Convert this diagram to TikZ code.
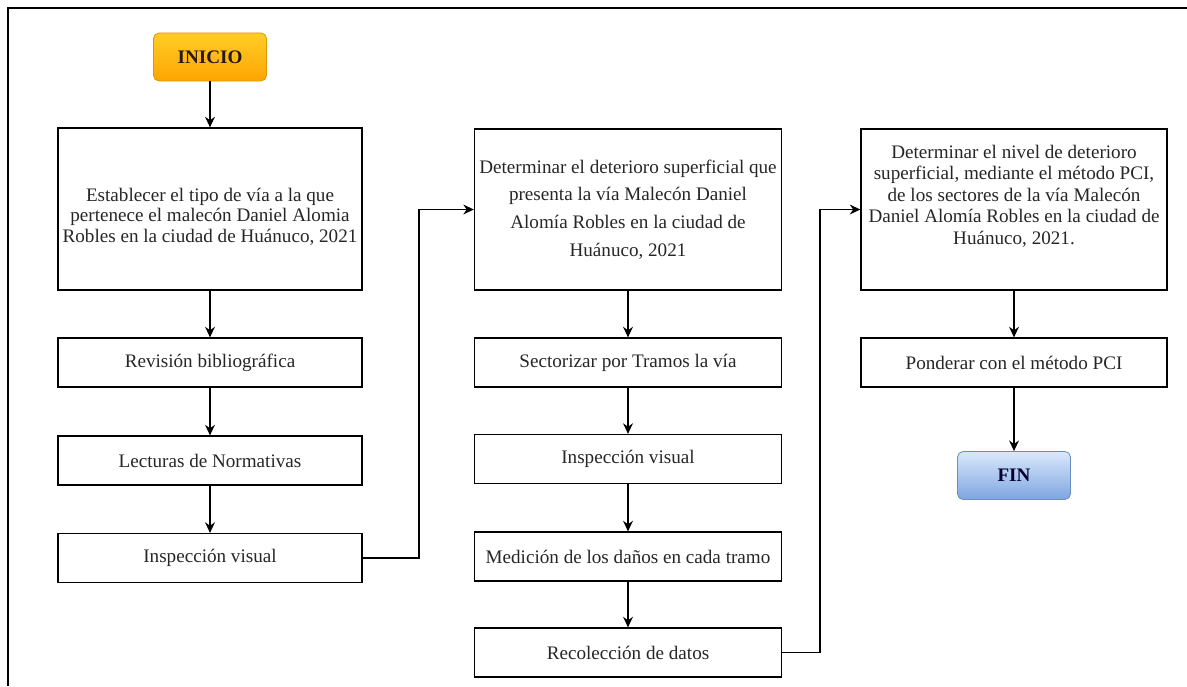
\documentclass[tikz,border=0pt]{standalone}
\usepackage{fontspec}
\setmainfont{Liberation Serif}
\usetikzlibrary{arrows.meta}

\definecolor{naranjaArriba}{HTML}{FFCD28}
\definecolor{naranjaAbajo}{HTML}{FFA500}
\definecolor{naranjaBorde}{HTML}{D79B00}
\definecolor{azulArriba}{HTML}{DAE8FC}
\definecolor{azulAbajo}{HTML}{7EA6E0}
\definecolor{azulBorde}{HTML}{6C8EBF}

\tikzset{
	paso/.style={draw=black, line width=0.9pt, inner sep=0pt, align=center,
		minimum width=7.6cm, minimum height=1.225cm, text=black!85,
		font=\fontsize{13.6}{15}\selectfont},
	terminal/.style={rounded corners=4pt, line width=0.6pt, inner sep=0pt,
		minimum width=2.825cm, minimum height=1.2cm,
		font=\fontsize{13.6}{15}\selectfont\bfseries},
	flecha/.style={line width=0.9pt, -{Stealth[length=7.5pt, width=7pt]}}
}

\begin{document}
\begin{tikzpicture}[x=0.025cm, y=-0.025cm]

	\useasboundingbox (0,0) rectangle (1187,686);

	% frame round the figure (open at right and bottom)
	\draw[line width=1pt] (8,686) -- (8,8) -- (1187,8);

	% start and end
	\node[terminal, draw=naranjaBorde, top color=naranjaArriba, bottom color=naranjaAbajo, text=black!80!brown] (inicio) at (210,57) {INICIO};
	\node[terminal, draw=azulBorde, top color=azulArriba, bottom color=azulAbajo, text=blue!20!black] (fin) at (1014,475.5) {FIN};

	% first column
	\node[paso, minimum height=4.05cm, font=\fontsize{13.6}{14.4}\selectfont] (establecer) at (210,209) {\mbox{}\\[6pt]Establecer el tipo de vía a la que\\ pertenece el malecón Daniel Alomia\\ Robles en la ciudad de Huánuco, 2021};
	\node[paso] (revision) at (210,362.5) {Revisión bibliográfica};
	\node[paso] (lecturas) at (210,460.5) {Lecturas de Normativas};
	\node[paso] (inspeccionA) at (210,558) {Inspección visual};

	% second column
	\node[paso, minimum width=7.675cm, minimum height=4.025cm, font=\fontsize{13.6}{19.8}\selectfont] (deterioro) at (628,209.5) {Determinar el deterioro superficial que\\ presenta la vía Malecón Daniel\\ Alomía Robles en la ciudad de\\ Huánuco, 2021};
	\node[paso, minimum width=7.675cm] (sectorizar) at (628,362.5) {Sectorizar por Tramos la vía};
	\node[paso, minimum width=7.675cm] (inspeccionB) at (628,459) {Inspección visual};
	\node[paso, minimum width=7.675cm] (medicion) at (628,556.5) {Medición de los daños en cada tramo};
	\node[paso, minimum width=7.675cm] (recoleccion) at (628,652.5) {Recolección de datos};

	% third column
	\node[paso, minimum width=7.65cm, minimum height=4.025cm, font=\fontsize{13.6}{15.3}\selectfont] (nivel) at (1014,209.5) {Determinar el nivel de deterioro\\ superficial, mediante el método PCI,\\ de los sectores de la vía Malecón\\ Daniel Alomía Robles en la ciudad de\\ Huánuco, 2021.\\[6pt]\mbox{}};
	\node[paso, minimum width=7.65cm] (ponderar) at (1014,362.5) {Ponderar con el método PCI};

	% bends of the two long connectors
	\coordinate (codoA) at (419,558);
	\coordinate (codoB) at (820,652.5);

	% arrows
	\draw[flecha] (inicio) -- (establecer);
	\draw[flecha] (establecer) -- (revision);
	\draw[flecha] (revision) -- (lecturas);
	\draw[flecha] (lecturas) -- (inspeccionA);
	\draw[flecha] (inspeccionA) -- (codoA) |- (deterioro);
	\draw[flecha] (deterioro) -- (sectorizar);
	\draw[flecha] (sectorizar) -- (inspeccionB);
	\draw[flecha] (inspeccionB) -- (medicion);
	\draw[flecha] (medicion) -- (recoleccion);
	\draw[flecha] (recoleccion) -- (codoB) |- (nivel);
	\draw[flecha] (nivel) -- (ponderar);
	\draw[flecha] (ponderar) -- (fin);

\end{tikzpicture}
\end{document}
